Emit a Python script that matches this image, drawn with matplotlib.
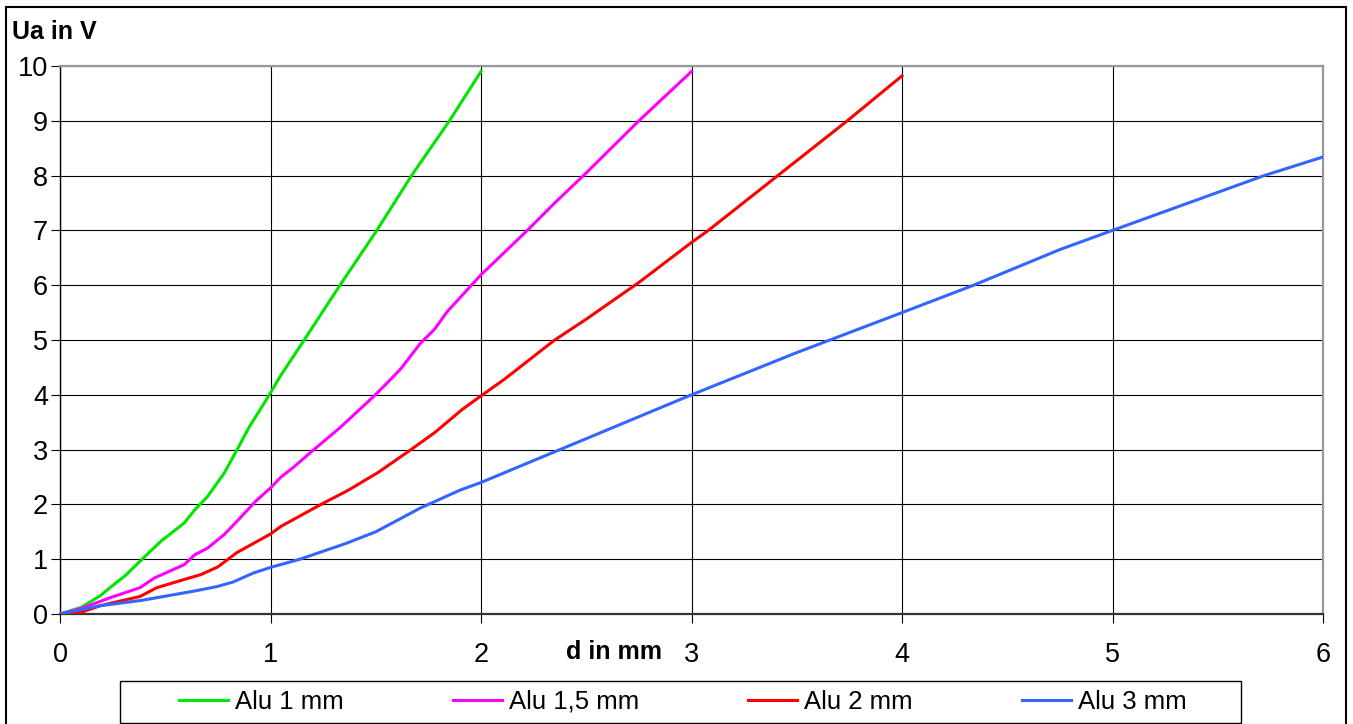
import matplotlib
matplotlib.use("Agg")
import matplotlib.pyplot as plt
from matplotlib.patches import Rectangle

plt.rcParams["font.family"] = ["Liberation Sans", "DejaVu Sans"]

# Alu 1 mm
x_alu1 = [0, 0.1, 0.19, 0.25, 0.31, 0.39, 0.48, 0.59, 0.64, 0.70, 0.78, 0.84,
          0.90, 0.99, 1.045, 1.16, 1.33, 1.505, 1.67, 1.85, 2.0]
y_alu1 = [0, 0.12, 0.33, 0.52, 0.70, 1.0, 1.33, 1.66, 1.9, 2.14, 2.57, 2.99,
          3.42, 3.97, 4.33, 5.0, 6.0, 7.0, 8.0, 9.0, 9.9]

# Alu 1,5 mm
x_alu15 = [0, 0.1, 0.24, 0.38, 0.45, 0.59, 0.64, 0.70, 0.78, 0.85, 0.93, 1.0,
           1.05, 1.11, 1.2, 1.33, 1.49, 1.56, 1.62, 1.71, 1.78, 1.84, 2.0,
           2.22, 2.35, 2.5, 2.75, 3.0]
y_alu15 = [0, 0.1, 0.3, 0.48, 0.66, 0.9, 1.08, 1.2, 1.45, 1.73, 2.06, 2.3,
           2.5, 2.68, 2.98, 3.4, 3.97, 4.24, 4.48, 4.93, 5.2, 5.52, 6.19,
           7.0, 7.5, 8.05, 9.0, 9.9]

# Alu 2 mm
x_alu2 = [0, 0.1, 0.19, 0.38, 0.46, 0.59, 0.67, 0.75, 0.84, 1.0, 1.05, 1.24,
          1.37, 1.51, 1.66, 1.78, 1.91, 2.0, 2.11, 2.35, 2.5, 2.75, 3.0, 3.08,
          3.41, 3.74, 4.0]
y_alu2 = [0, 0.03, 0.15, 0.32, 0.48, 0.63, 0.72, 0.86, 1.12, 1.46, 1.6, 2.0,
          2.26, 2.58, 2.98, 3.31, 3.73, 3.98, 4.28, 5.0, 5.38, 6.05, 6.78, 7.0,
          8.0, 9.0, 9.82]

# Alu 3 mm
x_alu3 = [0, 0.1, 0.19, 0.39, 0.64, 0.745, 0.82, 0.92, 1.0, 1.14, 1.36, 1.5,
          1.71, 1.9, 2.0, 2.25, 2.5, 2.75, 3.0, 3.5, 4.0, 4.34, 4.75, 5.0,
          5.72, 6.0]
y_alu3 = [0, 0.08, 0.15, 0.25, 0.42, 0.5, 0.58, 0.75, 0.85, 1.0, 1.29, 1.5,
          1.93, 2.26, 2.4, 2.8, 3.2, 3.6, 4.0, 4.77, 5.5, 6.0, 6.65, 7.0,
          8.0, 8.34]

series = [
    ("Alu 1 mm", x_alu1, y_alu1, "#00E600"),
    ("Alu 1,5 mm", x_alu15, y_alu15, "#FF00FF"),
    ("Alu 2 mm", x_alu2, y_alu2, "#FF0000"),
    ("Alu 3 mm", x_alu3, y_alu3, "#3366FF"),
]

W, H = 1353, 724
fig = plt.figure(figsize=(W / 100, H / 100), dpi=100)
ax = fig.add_axes([60 / W, 1 - 614 / H, (1323 - 60) / W, (614 - 66) / H])

for label, xs, ys, color in series:
    ax.plot(xs, ys, color=color, linewidth=2.2, label=label, zorder=3)

ax.set_xlim(0, 6)
ax.set_ylim(0, 10)
ax.set_xticks(range(0, 7))
ax.set_yticks(range(0, 11))
ax.grid(True, color="black", linewidth=0.8)
ax.set_axisbelow(True)

for side in ("top", "right"):
    ax.spines[side].set_color("#999999")
    ax.spines[side].set_linewidth(1.6)
ax.spines["left"].set_color("black")
ax.spines["left"].set_linewidth(1.0)
ax.spines["bottom"].set_color("#333333")
ax.spines["bottom"].set_linewidth(1.6)

ax.tick_params(axis="x", direction="out", length=6.5, width=0.8,
               pad=13.5, labelsize=19.5)
ax.tick_params(axis="y", direction="out", length=6.5, width=0.8,
               pad=2, labelsize=19.5)

fig.text(12 / W, 1 - 32 / H, "Ua in V", fontsize=18, fontweight="bold",
         ha="left", va="center")
fig.text(614 / W, 1 - 652 / H, "d in mm", fontsize=18, fontweight="bold",
         ha="center", va="center")

# legend entries without frame, box drawn separately
leg = fig.legend(loc="center", ncol=4, frameon=False,
                 bbox_to_anchor=(683 / W, 1 - 702 / H),
                 fontsize=18.5, handlelength=1.9, handletextpad=0.28,
                 columnspacing=4.25, borderaxespad=0, borderpad=0)
fig.patches.append(Rectangle((120 / W, 1 - 723 / H), (1241 - 120) / W, 42 / H,
                             transform=fig.transFigure, fill=False,
                             edgecolor="black", linewidth=1.0))

fig.patches.append(Rectangle((6 / W, -0.05), (1346 - 6) / W, 1.05 - 7 / H,
                             transform=fig.transFigure, fill=False,
                             edgecolor="black", linewidth=1.5))

fig.savefig("out.png", dpi=100)
